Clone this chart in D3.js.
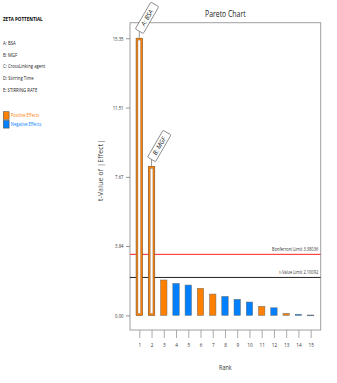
<!DOCTYPE html>
<html><head><meta charset="utf-8">
<script src="https://cdn.jsdelivr.net/npm/d3@7"></script>
<style>
html,body{margin:0;padding:0;background:#fff;}
svg{display:block;font-family:"Open Sans",sans-serif;}
</style></head><body>
<svg id="c" width="337" height="383"></svg>
<script>
const ranks = [1,2,3,4,5,6,7,8,9,10,11,12,13,14,15];
const tValues = [15.35,8.25,1.96,1.77,1.68,1.50,1.18,1.05,0.89,0.74,0.50,0.42,0.11,0.06,0.02];
const effectSign = ["+","+","+","-","-","+","+","-","-","-","+","-","+","-","-"];
const barLabels = ["A: BSA","B: MGF","","","","","","","","","","","","",""];
const yTickValues = [0, 3.84, 7.67, 11.51, 15.35];
const yTickLabels = ["0.00","3.84","7.67","11.51","15.35"];
const limitValues = [3.38036, 2.10092];
const limitLabels = ["Bonferroni Limit 3.38036","t-Value Limit 2.10092"];
const factorNames = ["A: BSA","B: MGF","C: CrossLinking agent","D: Stirring Time","E: STIRRING RATE"];
const legendNames = ["Positive Effects","Negative Effects"];

const POS = "#ff8000", NEG = "#0080ff";
const SX = 0.8;
const svg = d3.select("#c");
const L = 130, R = 320.7, T = 22.7, B = 330;
const x = d3.scaleLinear().domain([0.24, 15.82]).range([L, R]);
const y = d3.scaleLinear().domain([-0.81, 16.21]).range([B, T]);

function txt(parent, px, py, s, size, opts={}) {
  const t = parent.append("text")
    .attr("transform", `translate(${px},${py}) scale(${opts.sx||SX},1)`)
    .attr("font-size", size).attr("fill", opts.fill||"#222")
    .attr("text-anchor", opts.anchor||"start").text(s);
  if (opts.bold) t.attr("font-weight","bold");
  return t;
}

// left panel
txt(svg, 3, 21, "ZETA POTTENTIAL", 5.8, {bold:true, fill:"#000", sx:0.78});
factorNames.forEach((f,i)=>{ txt(svg, 3, 44.6+i*11.9, f, 5.6, {fill:"#222", sx:0.76}); });
legendNames.forEach((n,i)=>{
  const yy = 111.7 + i*8.8;
  svg.append("rect").attr("x",3.3).attr("y",yy).attr("width",5.8).attr("height",7.6)
    .attr("fill", i===0?POS:NEG).attr("stroke","#555").attr("stroke-width",0.6);
  txt(svg, 10.8, yy+5.6, n, 5.4, {fill: i===0?POS:NEG, sx:0.76});
});

// title
txt(svg, (L+R)/2, 17.2, "Pareto Chart", 8.4, {anchor:"middle", sx:0.82});

// frame
svg.append("rect").attr("x",L).attr("y",T).attr("width",R-L).attr("height",B-T)
  .attr("fill","none").attr("stroke","#a0a0a0").attr("stroke-width",1);

// y axis
const yAxis = d3.axisLeft(y).tickValues(yTickValues).tickFormat((d,i)=>yTickLabels[i]).tickSize(4).tickPadding(2.5);
const gy = svg.append("g").attr("transform",`translate(${L},0)`).call(yAxis);
gy.select(".domain").remove();
gy.selectAll("line").attr("stroke","#555").attr("stroke-width",0.6);
gy.selectAll("text").attr("font-size",5.6).attr("fill","#333").attr("font-family","Open Sans, sans-serif")
  .each(function(){ const s=d3.select(this); s.attr("x", +s.attr("x")/0.76).attr("transform","scale(0.76,1)"); });

// x axis
const xAxis = d3.axisBottom(x).tickValues(ranks).tickFormat(d3.format("d")).tickSize(8).tickPadding(5);
const gx = svg.append("g").attr("transform",`translate(0,${B})`).call(xAxis);
gx.select(".domain").remove();
gx.selectAll("line").attr("stroke","#888").attr("stroke-width",0.7);
gx.selectAll("text").attr("font-size",5.8).attr("fill","#333").attr("font-family","Open Sans, sans-serif")
  .attr("transform","scale(0.8,1)").each(function(){ /* ticks are positioned by g transform */ });

// axis titles
txt(svg, (L+R)/2, 369.5, "Rank", 6.6, {anchor:"middle", fill:"#333", sx:0.82});
svg.append("text").attr("transform",`translate(102.5,${(T+B)/2 - 6}) rotate(-90)`).attr("text-anchor","middle")
  .attr("font-size",6.6).attr("fill","#444").attr("letter-spacing",0.3).text("t-Value of |Effect|");

// limit lines
limitValues.forEach((v,i)=>{
  svg.append("line").attr("x1",L).attr("x2",R).attr("y1",y(v)).attr("y2",y(v))
    .attr("stroke", i===0?"#ff2020":"#222").attr("stroke-width",1);
  txt(svg, R-2.5, y(v)-3, limitLabels[i], 5.0, {anchor:"end", fill:"#333", sx:0.8});
});

// bars
const bw = 6.4;
ranks.forEach((r,i)=>{
  const v = tValues[i];
  const col = effectSign[i]==="+"?POS:NEG;
  const x0 = x(r)-bw/2, y0 = y(v), h = y(0)-y(v);
  if (barLabels[i]) {
    svg.append("rect").attr("x",x0).attr("y",y0).attr("width",bw).attr("height",h)
      .attr("fill",col).attr("stroke","#8a5a2a").attr("stroke-width",0.7);
    svg.append("rect").attr("x",x0+1.8).attr("y",y0+1.8).attr("width",bw-3.6).attr("height",h-3.6)
      .attr("fill","#fff").attr("stroke","#8a6a4a").attr("stroke-width",0.5);
    svg.append("line").attr("x1",x(r)).attr("x2",x(r)).attr("y1",y0-0.5).attr("y2",y0-7).attr("stroke","#555").attr("stroke-width",0.6);
    const g = svg.append("g").attr("transform",`translate(${x(r)},${y0-7}) rotate(-60)`);
    g.append("rect").attr("x",0).attr("y",-4.6).attr("width",31).attr("height",9.2).attr("rx",1)
      .attr("fill","#fff").attr("stroke","#555").attr("stroke-width",0.6);
    g.append("text").attr("x",15.5).attr("y",2.2).attr("text-anchor","middle").attr("font-size",6.4)
      .attr("font-style","italic").attr("fill","#222").text(barLabels[i]);
  } else {
    svg.append("rect").attr("x",x0).attr("y",y0).attr("width",bw).attr("height",Math.max(h,0.8))
      .attr("fill",col).attr("stroke","#6a6a6a").attr("stroke-width",0.5);
  }
});
</script>
</body></html>
